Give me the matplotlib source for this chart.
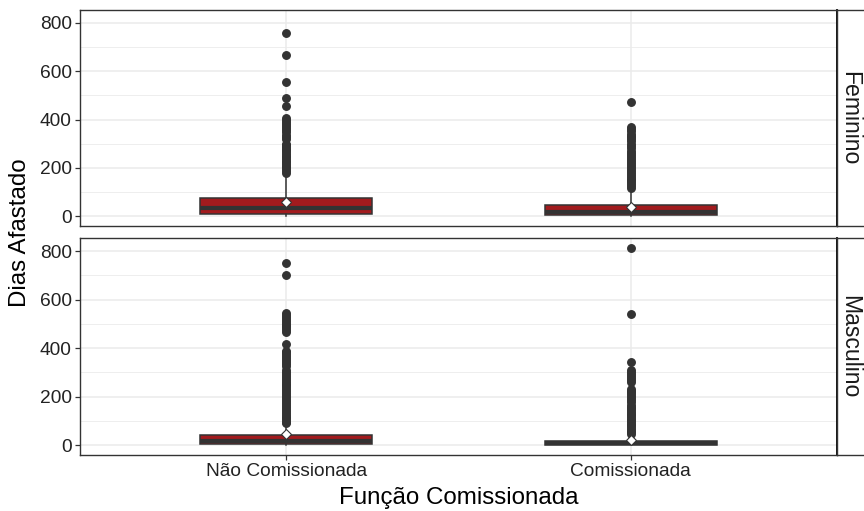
import matplotlib
matplotlib.use("Agg")
import matplotlib.pyplot as plt
from matplotlib.ticker import MultipleLocator

plt.rcParams['font.family'] = ['Liberation Sans', 'DejaVu Sans']

# categories / facets
categorias = ['Não Comissionada', 'Comissionada']
facetas = ['Feminino', 'Masculino']

# box statistics (per facet, per category)
fem_q1 = [7, 4]
fem_med = [33, 17]
fem_q3 = [76, 48]
fem_whislo = [1, 1]
fem_whishi = [172, 112]
fem_mean = [59, 36]
fem_fliers_nc = [760, 668, 555, 488, 455, 405, 398, 390, 382, 374, 366, 357,
                 348, 338, 328, 318, 300, 293, 286, 279, 272, 265, 258, 251,
                 244, 237, 230, 223, 216, 209, 202, 195, 188, 180]
fem_fliers_c = [472, 370, 362, 352, 342, 334, 326, 318, 310, 300, 292, 283,
                268, 260, 252, 244, 236, 228, 220, 212, 204, 196, 188, 180,
                172, 164, 156, 148, 140, 132, 124, 117]

mas_q1 = [4, 1]
mas_med = [16, 8]
mas_q3 = [40, 18]
mas_whislo = [1, 1]
mas_whishi = [85, 42]
mas_mean = [45, 21]
mas_fliers_nc = [752, 700, 545, 537, 529, 521, 513, 505, 497, 489, 481, 473,
                 465, 418, 390, 382, 374, 366, 358, 350, 342, 334, 326, 309,
                 301, 293, 285, 277, 269, 261, 254, 246, 238, 230, 222, 214,
                 206, 198, 190, 182, 174, 166, 158, 150, 142, 134, 126, 118,
                 110, 102, 95, 90]
mas_fliers_c = [813, 540, 343, 309, 301, 293, 285, 276, 268, 260, 233, 225,
                217, 209, 201, 193, 185, 178, 165, 158, 151, 144, 137, 130,
                123, 116, 109, 102, 95, 88, 81, 74, 67, 60, 53, 46]

y_ticks = [0, 200, 400, 600, 800]

fill_red = '#A21B1E'
dark = '#333333'
grid_col = '#EBEBEB'

W, H = 864, 511
fig = plt.figure(figsize=(W / 100, H / 100), dpi=100)

def fx(px):
    return px / W

def fy(px):
    return 1 - px / H

px_left, px_right = 80, 837
panels_px = [(10, 226), (238, 455)]

dados = [
    (fem_q1, fem_med, fem_q3, fem_whislo, fem_whishi, fem_mean, [fem_fliers_nc, fem_fliers_c]),
    (mas_q1, mas_med, mas_q3, mas_whislo, mas_whishi, mas_mean, [mas_fliers_nc, mas_fliers_c]),
]

axes = []
for i, (top, bot) in enumerate(panels_px):
    ax = fig.add_axes([fx(px_left), fy(bot), fx(px_right - px_left), (bot - top) / H])
    q1, med, q3, wlo, whi, mean, fliers = dados[i]
    stats = []
    for j in range(len(categorias)):
        stats.append(dict(q1=q1[j], med=med[j], q3=q3[j], whislo=wlo[j], whishi=whi[j],
                          mean=mean[j], fliers=fliers[j], label=categorias[j]))
    ax.bxp(stats, positions=[1, 2], widths=0.5, patch_artist=True, showcaps=False,
           showmeans=True, manage_ticks=False,
           boxprops=dict(facecolor=fill_red, edgecolor=dark, linewidth=1.1),
           medianprops=dict(color=dark, linewidth=3.0, solid_capstyle='butt'),
           whiskerprops=dict(color=dark, linewidth=1.1),
           flierprops=dict(marker='o', markerfacecolor=dark, markeredgecolor=dark,
                           markersize=5.4, linestyle='none'),
           meanprops=dict(marker='D', markerfacecolor='white', markeredgecolor=dark,
                          markersize=5.5, markeredgewidth=0.8),
           zorder=3)
    ax.set_xlim(0.4, 2.6)
    ax.set_ylim(-40.65, 853.65)
    ax.set_xticks([1, 2])
    ax.set_yticks(y_ticks)
    ax.yaxis.set_minor_locator(MultipleLocator(100))
    ax.grid(True, which='major', color=grid_col, linewidth=1.1, zorder=0)
    ax.grid(True, which='minor', axis='y', color=grid_col, linewidth=0.6, zorder=0)
    ax.set_axisbelow(True)
    ax.tick_params(axis='both', which='major', length=3.5, width=0.9, color=dark,
                   labelsize=13.8, labelcolor='#222222', pad=2.5)
    ax.tick_params(axis='y', which='minor', length=0)
    for s in ax.spines.values():
        s.set_color(dark)
        s.set_linewidth(1.0)
    ax.spines['right'].set_color('black')
    ax.spines['right'].set_linewidth(1.3)
    if i == 0:
        ax.set_xticklabels([])
        ax.tick_params(axis='x', length=0)
    else:
        ax.set_xticklabels(categorias)
    axes.append(ax)

    # facet strip on the right (runs past the figure edge, as in the reference)
    sax = fig.add_axes([fx(px_right), fy(bot), fx(36), (bot - top) / H])
    sax.set_xticks([])
    sax.set_yticks([])
    for s in sax.spines.values():
        s.set_color(dark)
        s.set_linewidth(1.0)
    fig.text(fx(850), fy((top + bot) / 2), facetas[i], rotation=-90, ha='center',
             va='center', fontsize=16.6, color='#1A1A1A')

fig.text(fx(20), fy((panels_px[0][0] + panels_px[1][1]) / 2), 'Dias Afastado',
         rotation=90, ha='center', va='center', fontsize=17.4, color='black')
fig.text(fx((px_left + px_right) / 2), fy(498), 'Função Comissionada',
         ha='center', va='center', fontsize=17.4, color='black')

fig.savefig('out.png', dpi=100)
